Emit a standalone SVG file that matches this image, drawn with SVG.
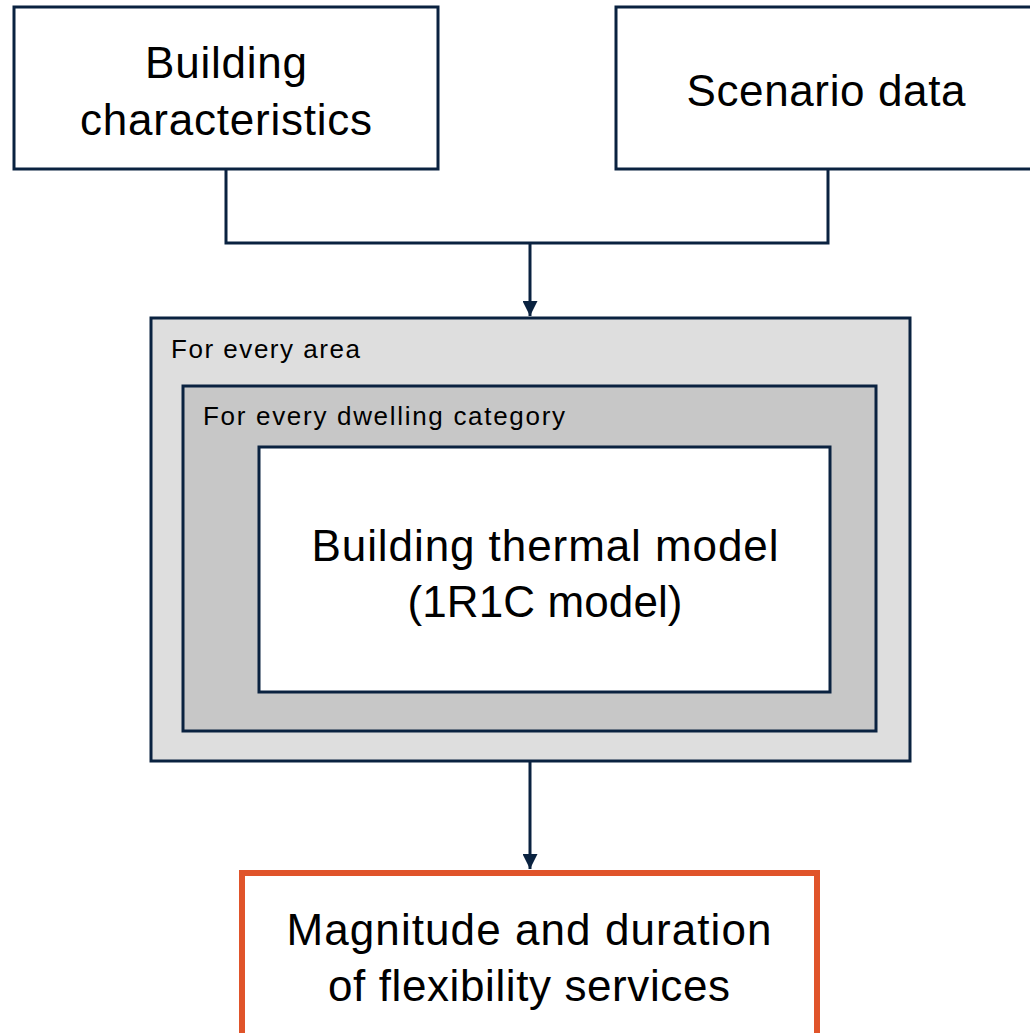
<svg xmlns="http://www.w3.org/2000/svg" width="1030" height="1033" viewBox="0 0 1030 1033">
  <defs>
    <marker id="arrow" viewBox="0 0 10 10" refX="10" refY="5" markerWidth="5.5" markerHeight="5" orient="auto" markerUnits="strokeWidth">
      <path d="M0,0 L10,5 L0,10 z" fill="#0a2240"/>
    </marker>
  </defs>
  <style>
    .box { stroke: #0a2240; stroke-width: 3; }
    .big { font-family: "Liberation Sans", Arial, sans-serif; font-size: 44px; fill: #000; text-anchor: middle; }
    .lbl { font-family: "Liberation Sans", Arial, sans-serif; font-size: 26px; fill: #000; }
    .wire { fill: none; stroke: #0a2240; stroke-width: 3; }
  </style>
  <rect width="1030" height="1033" fill="#ffffff"/>

  <g id="building-characteristics">
    <rect class="box" x="14" y="7" width="424" height="162" fill="#ffffff"/>
    <text class="big" x="226" y="78" textLength="162">Building</text>
    <text class="big" x="226" y="135" textLength="292">characteristics</text>
  </g>

  <g id="scenario-data">
    <rect class="box" x="616" y="7" width="420" height="162" fill="#ffffff"/>
    <text class="big" x="826" y="106" textLength="279">Scenario data</text>
  </g>

  <g id="area-loop">
    <rect class="box" x="151" y="318" width="759" height="443" fill="#dedede"/>
    <text class="lbl" x="171" y="358" textLength="189">For every area</text>
  </g>

  <g id="dwelling-loop">
    <rect class="box" x="183" y="386" width="693" height="345" fill="#c7c7c7"/>
    <text class="lbl" x="203" y="425" textLength="362">For every dwelling category</text>
  </g>

  <g id="thermal-model">
    <rect class="box" x="259" y="447" width="571" height="245" fill="#ffffff"/>
    <text class="big" x="545" y="561" textLength="467">Building thermal model</text>
    <text class="big" x="545" y="617" textLength="275">(1R1C model)</text>
  </g>

  <g id="flexibility-output">
    <rect x="242" y="873" width="575" height="170" fill="#ffffff" stroke="#e0542a" stroke-width="6"/>
    <text class="big" x="529" y="945" textLength="485">Magnitude and duration</text>
    <text class="big" x="529" y="1001" textLength="402">of flexibility services</text>
  </g>

  <g id="connectors">
    <path class="wire" d="M226,169 V243 H828 V169"/>
    <path class="wire" d="M530,243 V316" marker-end="url(#arrow)"/>
    <path class="wire" d="M530,761 V869" marker-end="url(#arrow)"/>
  </g>
</svg>
